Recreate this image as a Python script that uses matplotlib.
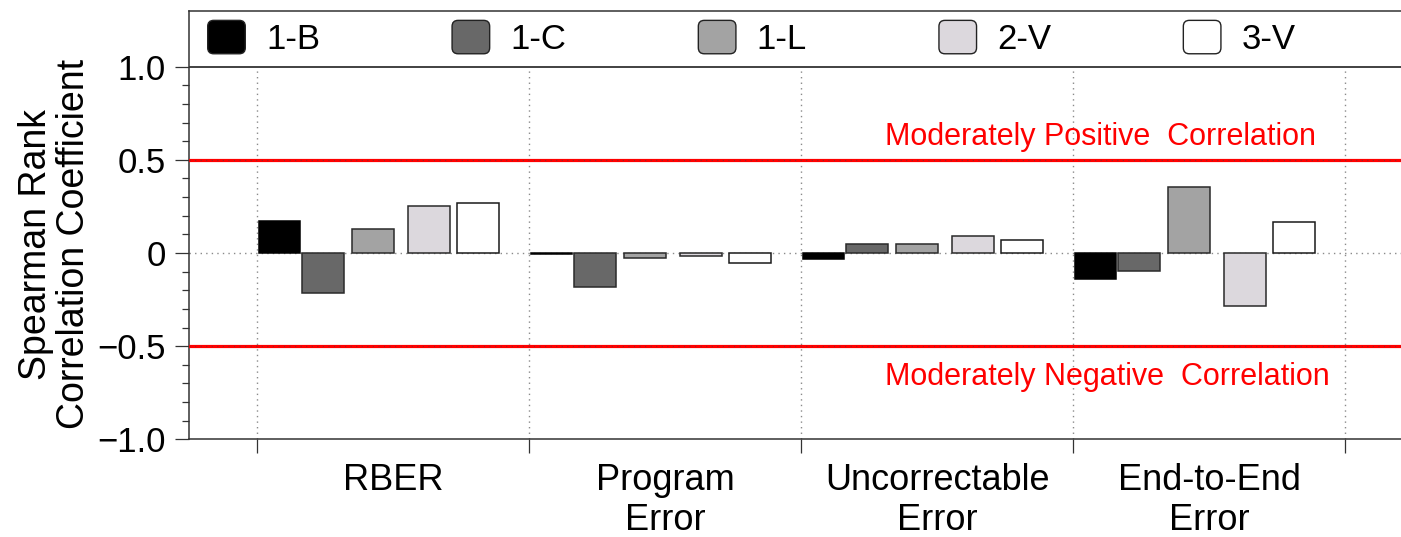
import matplotlib
matplotlib.use("Agg")
import matplotlib.pyplot as plt
import matplotlib.patches as mpatches
from matplotlib.patches import FancyBboxPatch
from matplotlib.legend_handler import HandlerPatch
from matplotlib.ticker import FixedLocator, NullFormatter
import numpy as np

plt.rcParams['font.family'] = ['Liberation Sans', 'DejaVu Sans']

# ---------------- data ----------------
categories = ['RBER', 'Program\nError', 'Uncorrectable\nError', 'End-to-End\nError']
series_names = ['1-B', '1-C', '1-L', '2-V', '3-V']
vals_1B = [0.169, -0.005, -0.034, -0.142]
vals_1C = [-0.213, -0.181, 0.050, -0.096]
vals_1L = [0.126, -0.025, 0.050, 0.352]
vals_2V = [0.253, -0.014, 0.093, -0.285]
vals_3V = [0.269, -0.053, 0.068, 0.166]
series_values = [vals_1B, vals_1C, vals_1L, vals_2V, vals_3V]
ytick_vals = [-1.0, -0.5, 0.0, 0.5, 1.0]
ytick_labels = ['\u22121.0', '\u22120.5', '0', '0.5', '1.0']
pos_text = 'Moderately Positive  Correlation'
neg_text = 'Moderately Negative  Correlation'

# ---------------- style ----------------
face_colors = ['#000000', '#686868', '#a3a3a3', '#dcd8dd', '#ffffff']
edge_colors = ['#000000', '#2a2a2a', '#2a2a2a', '#2a2a2a', '#1a1a1a']
bar_offsets = [-0.418, -0.258, -0.074, 0.131, 0.311]
bar_width = 0.152

fig = plt.figure(figsize=(14.01, 5.37), dpi=100)
ax = fig.add_axes([0.1351, 0.1819, 0.8649, 0.7982])

x = np.arange(len(categories))
for vals, fc, ec, off, name in zip(series_values, face_colors, edge_colors, bar_offsets, series_names):
    ax.bar(x + off, vals, width=bar_width, color=fc, edgecolor=ec, linewidth=1.1,
           zorder=3, label=name)

ax.set_xlim(-0.75, 3.705)
ax.set_ylim(-1.0, 1.3)

# grid lines
grid_kw = dict(color='#8a8a8a', linewidth=1.0, linestyle=(0, (1, 3)))
boundaries = np.arange(len(categories) + 1) - 0.5
ax.vlines(boundaries, -1.0, 1.0, zorder=1, **grid_kw)
ax.axhline(0, zorder=2, **grid_kw)

# reference lines
ax.axhline(0.5, color='#ff0000', linewidth=2.3, zorder=4)
ax.axhline(-0.5, color='#ff0000', linewidth=2.3, zorder=4)
ax.axhline(0.5, color='#444444', linewidth=0.8, linestyle=(0, (1, 4)), zorder=5, alpha=0.6)
ax.axhline(-0.5, color='#444444', linewidth=0.8, linestyle=(0, (1, 4)), zorder=5, alpha=0.6)
ax.text(1.808, 0.579, pos_text, color='#ff0000', fontsize=22, ha='left', va='baseline', zorder=6)
ax.text(1.808, -0.71, neg_text, color='#ff0000', fontsize=22, ha='left', va='baseline', zorder=6)

# legend separator line at 1.0
ax.axhline(1.0, color='#333333', linewidth=1.3, zorder=6)

# spines
for s in ['right']:
    ax.spines[s].set_visible(False)
for s in ['left', 'bottom', 'top']:
    ax.spines[s].set_color('#333333')
    ax.spines[s].set_linewidth(1.1)

# y ticks
ax.yaxis.set_major_locator(FixedLocator(ytick_vals))
ax.set_yticklabels(ytick_labels)
minor_y = [v / 10 for v in range(-9, 10) if v % 5 != 0]
ax.yaxis.set_minor_locator(FixedLocator(minor_y))
ax.tick_params(axis='y', which='major', direction='out', length=10, width=0.9,
               color='#333333', labelsize=25, pad=7)
ax.tick_params(axis='y', which='minor', direction='out', length=5, width=0.9, color='#333333')

# x ticks: boundaries as major (no labels), categories as minor labels
ax.xaxis.set_major_locator(FixedLocator(boundaries))
ax.xaxis.set_major_formatter(NullFormatter())
ax.xaxis.set_minor_locator(FixedLocator(x))
ax.set_xticklabels(categories, minor=True)
ax.tick_params(axis='x', which='major', direction='out', length=10, width=0.9, color='#333333')
ax.tick_params(axis='x', which='minor', length=0, labelsize=26, pad=17)
for lab in ax.get_xticklabels(minor=True):
    lab.set_linespacing(1.2)

ax.set_ylabel('Spearman Rank\nCorrelation Coefficient', fontsize=27, linespacing=1.1)
ax.yaxis.set_label_coords(-0.080, 0.455)


# legend with rounded patches
class RoundHandler(HandlerPatch):
    def create_artists(self, legend, orig_handle, xdescent, ydescent, width, height,
                       fontsize, trans):
        r = 0.18 * min(width, height)
        p = FancyBboxPatch((-xdescent + r, -ydescent + r), width - 2 * r, height - 2 * r,
                           boxstyle=f"round,pad={r},rounding_size={r}",
                           facecolor=orig_handle.get_facecolor(),
                           edgecolor=orig_handle.get_edgecolor(), linewidth=1.0,
                           transform=trans)
        return [p]


handles = [mpatches.Patch(facecolor=fc, edgecolor='#222222') for fc in face_colors]
fs_px = 25 * 100 / 72
leg = ax.legend(handles, series_names, ncol=5, loc='center left',
                bbox_to_anchor=(0.0152, 0.936), frameon=False, fontsize=25,
                borderpad=0, borderaxespad=0, handlelength=37.6 / fs_px,
                handleheight=38.3 / fs_px, handletextpad=0.6, columnspacing=3.8,
                handler_map={mpatches.Patch: RoundHandler()})
leg.set_zorder(7)

fig.savefig('out.png', dpi=100)
